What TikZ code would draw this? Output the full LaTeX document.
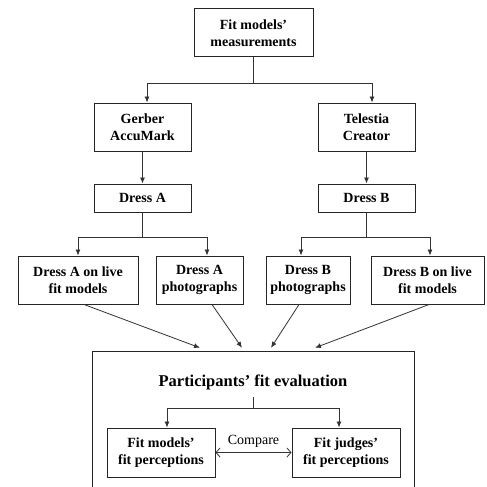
\documentclass[tikz,border=0pt]{standalone}
\usepackage{fontspec}
\setmainfont{Liberation Serif}
\usetikzlibrary{arrows.meta}
\begin{document}
\begin{tikzpicture}[x=1pt,y=-1pt,
  box/.style={draw=black!85,line width=1pt,align=center,inner sep=0pt,
    font=\fontsize{14}{17}\selectfont\bfseries},
  conn/.style={draw=black!80,line width=0.8pt},
  arr/.style={conn,-{Latex[length=6pt,width=5pt]}},
  darr/.style={conn,{Straight Barb[length=4pt,width=9pt]}-{Straight Barb[length=4pt,width=9pt]}}]
\useasboundingbox (0,0) rectangle (487,487);
\fill[white] (0,0) rectangle (487,487);
\node[box,minimum width=119pt,minimum height=48pt] (top) at (253.5,33) {Fit models’\\measurements};
\node[box,minimum width=97pt,minimum height=48pt] (gerber) at (142.5,127) {Gerber\\AccuMark};
\node[box,minimum width=97pt,minimum height=48pt] (telestia) at (366.5,127) {Telestia\\Creator};
\node[box,minimum width=97pt,minimum height=28pt] (dressA) at (142.5,198) {Dress A};
\node[box,minimum width=97pt,minimum height=28pt] (dressB) at (366.5,198) {Dress B};
\node[box,minimum width=120pt,minimum height=48pt] (liveA) at (78,280) {Dress A on live\\fit models};
\node[box,minimum width=87pt,minimum height=48pt] (photoA) at (199.5,280) {Dress A\\photographs};
\node[box,minimum width=84pt,minimum height=48pt] (photoB) at (308,280) {Dress B\\photographs};
\node[box,minimum width=113pt,minimum height=48pt] (liveB) at (427.5,280) {Dress B on live\\fit models};
% big evaluation box (bottom edge cut off by the picture border)
\node[minimum width=321pt,minimum height=140pt,inner sep=0pt] (big) at (253.5,422) {};
\draw[draw=black!85,line width=1pt] (big.south west) -- (big.north west) -- (big.north east) -- (big.south east);
\node[font=\fontsize{16.5}{19}\selectfont\bfseries] (title) at (253,382) {Participants’ fit evaluation};
\node[box,minimum width=108pt,minimum height=49pt] (fm) at (161,452.5) {Fit models’\\fit perceptions};
\node[box,minimum width=108pt,minimum height=49pt] (fj) at (346,452.5) {Fit judges’\\fit perceptions};
% connectors
\draw[arr] (top.south) -- ++(0,26) -| ([xshift=4.5pt]gerber.north);
\draw[arr] (top.south) -- ++(0,26) -| ([xshift=5.5pt]telestia.north);
\draw[arr] (gerber.south) -- (dressA.north);
\draw[arr] (telestia.south) -- (dressB.north);
\draw[arr] (dressA.south) -- ++(0,25) -| (liveA.north);
\draw[arr] (dressA.south) -- ++(0,25) -| ([xshift=7.5pt]photoA.north);
\draw[arr] (dressB.south) -- ++(0,25) -| ([xshift=-7pt]photoB.north);
\draw[arr] (dressB.south) -- ++(0,25) -| ([xshift=2.5pt]liveB.north);
\draw[arr] ([xshift=6pt]liveA.south) -- ([xshift=-53.5pt,yshift=4pt]big.north);
\draw[arr] ([xshift=12.5pt]photoA.south) -- ([xshift=-11.5pt,yshift=4pt]big.north);
\draw[arr] ([xshift=-9pt]photoB.south) -- ([xshift=17.5pt,yshift=4pt]big.north);
\draw[arr] ([xshift=1.5pt]liveB.south) -- ([xshift=61.5pt,yshift=4pt]big.north);
\draw[arr] ([yshift=-4pt]title.south) -- ++(0,11) -| ([xshift=6pt]fm.north);
\draw[arr] ([yshift=-4pt]title.south) -- ++(0,11) -| ([xshift=-7pt]fj.north);
\draw[darr] (fm.east) -- node[above=1pt,font=\fontsize{14}{17}\selectfont] {Compare} (fj.east -| fj.west);
\end{tikzpicture}
\end{document}
